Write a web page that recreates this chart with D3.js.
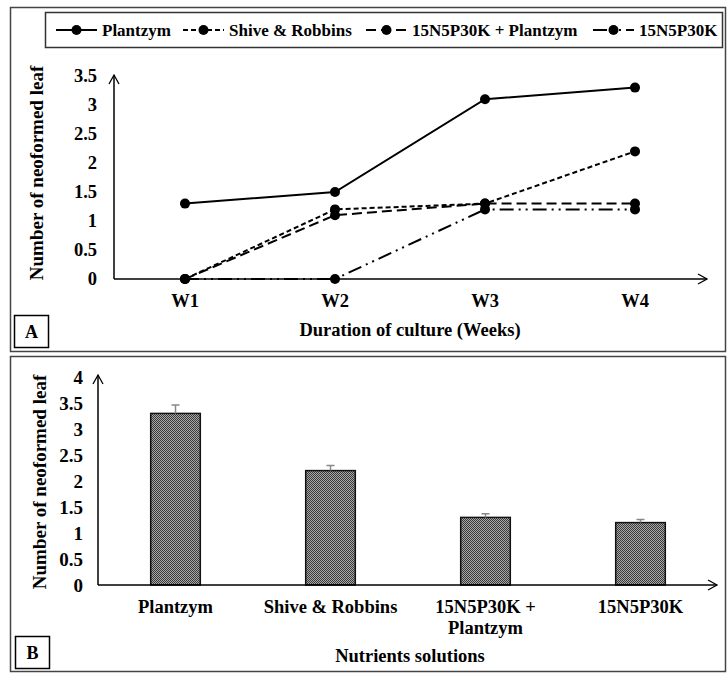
<!DOCTYPE html>
<html><head><meta charset="utf-8">
<script src="https://cdn.jsdelivr.net/npm/d3@7"></script>
<style>body{margin:0;background:#fff}svg{display:block}text{font-family:"Liberation Serif","Times New Roman",serif;font-weight:bold;fill:#000}</style>
</head><body>
<svg id="c" width="728" height="674"></svg>
<script>
// ---- data ----
const weeks = ["W1","W2","W3","W4"];
const seriesNames = ["Plantzym","Shive & Robbins","15N5P30K + Plantzym","15N5P30K"];
const plantzym = [1.3, 1.5, 3.1, 3.3];
const shive = [0, 1.2, 1.3, 2.2];
const npkPlantzym = [0, 1.1, 1.3, 1.3];
const npk = [0, 0, 1.2, 1.2];
const yTicksA = [0,0.5,1,1.5,2,2.5,3,3.5];
const nutrients = ["Plantzym","Shive & Robbins","15N5P30K + Plantzym","15N5P30K"];
const means = [3.3, 2.2, 1.3, 1.2];
const errs = [0.16, 0.1, 0.07, 0.06];
const yTicksB = [0,0.5,1,1.5,2,2.5,3,3.5,4];

const svg = d3.select("#c");
const dashes = [null, "5,3", "10,5", "14,5,2,5,2,5"];
const lineData = [plantzym, shive, npkPlantzym, npk];

// panels
svg.append("rect").attr("x",10.5).attr("y",7.5).attr("width",715).attr("height",344)
  .attr("fill","none").attr("stroke","#444").attr("stroke-width",1.5);
svg.append("rect").attr("x",10.5).attr("y",356.5).attr("width",715).attr("height",315)
  .attr("fill","none").attr("stroke","#444").attr("stroke-width",1.5);

function arrowAxis(g, x1,y1,x2,y2, dir){
  g.append("line").attr("x1",x1).attr("y1",y1).attr("x2",x2).attr("y2",y2)
    .attr("stroke","#000").attr("stroke-width",1.5);
  const p = dir==="up" ? `M${x2-5},${y2+9}L${x2},${y2}L${x2+5},${y2+9}` : `M${x2-9},${y2-5}L${x2},${y2}L${x2-9},${y2+5}`;
  g.append("path").attr("d",p).attr("fill","none").attr("stroke","#000").attr("stroke-width",1.3);
}

// ===== Panel A =====
const xA = d3.scaleBand().domain(weeks).range([110, 710]);
const yA = d3.scaleLinear().domain([0,3.5]).range([279, 76]);
const gA = svg.append("g");
arrowAxis(gA, 114, yA(0), 114, 75, "up");
arrowAxis(gA, 114, yA(0), 707, yA(0), "right");
const yAxA = d3.axisLeft(yA).tickValues(yTicksA).tickSize(0).tickPadding(0).tickFormat(d3.format("~g"));
gA.append("g").attr("transform","translate(97,0)").call(yAxA).call(g=>g.select(".domain").remove())
  .selectAll("text").attr("font-size",18.5).attr("font-family","Liberation Serif").attr("font-weight","bold").attr("fill","#000");
const xAxA = d3.axisBottom(xA).tickSize(0).tickPadding(0);
gA.append("g").attr("transform",`translate(0,${yA(0)+15})`).call(xAxA).call(g=>g.select(".domain").remove())
  .selectAll("text").attr("font-size",18.5).attr("font-family","Liberation Serif").attr("font-weight","bold").attr("fill","#000");

const line = d3.line().x((d,i)=>xA(weeks[i])+xA.bandwidth()/2).y(d=>yA(d));
lineData.forEach((s,k)=>{
  gA.append("path").attr("d",line(s)).attr("fill","none").attr("stroke","#000")
    .attr("stroke-width",2).attr("stroke-dasharray",dashes[k]);
  gA.selectAll(null).data(s).enter().append("circle")
    .attr("cx",(d,i)=>xA(weeks[i])+xA.bandwidth()/2).attr("cy",d=>yA(d)).attr("r",5).attr("fill","#000");
});
gA.append("text").attr("transform","translate(43,173) rotate(-90)").attr("text-anchor","middle")
  .attr("font-size",19).text("Number of neoformed leaf");
gA.append("text").attr("x",410).attr("y",336).attr("text-anchor","middle").attr("font-size",18.5)
  .text("Duration of culture (Weeks)");
gA.append("rect").attr("x",14.5).attr("y",315.5).attr("width",34).attr("height",32)
  .attr("fill","#fff").attr("stroke","#000").attr("stroke-width",1.5);
gA.append("text").attr("x",31.5).attr("y",338).attr("text-anchor","middle").attr("font-size",18).text("A");

// legend
const lg = svg.append("g");
lg.append("rect").attr("x",45.5).attr("y",12.5).attr("width",677).attr("height",35)
  .attr("fill","#fff").attr("stroke","#333").attr("stroke-width",1.5);
const legendStarts = [56, 183, 366, 593];
seriesNames.forEach((n,k)=>{
  const lx = legendStarts[k];
  lg.append("line").attr("x1",lx).attr("x2",lx+41).attr("y1",30).attr("y2",30)
    .attr("stroke","#000").attr("stroke-width",2).attr("stroke-dasharray",dashes[k]);
  lg.append("circle").attr("cx",lx+20.5).attr("cy",30).attr("r",5).attr("fill","#000");
  lg.append("text").attr("x",lx+46).attr("y",36).attr("font-size",17).text(n);
});

// ===== Panel B =====
const defs = svg.append("defs");
const pat = defs.append("pattern").attr("id","dots").attr("patternUnits","userSpaceOnUse")
  .attr("width",2).attr("height",2);
pat.append("rect").attr("width",2).attr("height",2).attr("fill","#a8a8a8");
pat.append("rect").attr("width",1).attr("height",1).attr("fill","#3a3a3a");
pat.append("rect").attr("x",1).attr("y",1).attr("width",1).attr("height",1).attr("fill","#3a3a3a");

const xB = d3.scaleBand().domain(nutrients).range([98, 718]).paddingInner(0.68).paddingOuter(0.34);
const yB = d3.scaleLinear().domain([0,4]).range([585, 377]);
const gB = svg.append("g");
gB.selectAll(null).data(means).enter().append("rect")
  .attr("x",(d,i)=>xB(nutrients[i])).attr("y",d=>yB(d)).attr("width",xB.bandwidth())
  .attr("height",d=>yB(0)-yB(d)).attr("fill","url(#dots)").attr("stroke","#111").attr("stroke-width",1.5);
gB.selectAll(null).data(means).enter().append("path")
  .attr("d",(d,i)=>{const cx=xB(nutrients[i])+xB.bandwidth()/2, y1=yB(d), y2=yB(d+errs[i]);
    return `M${cx},${y1}V${y2}M${cx-4},${y2}H${cx+4}`;})
  .attr("fill","none").attr("stroke","#888").attr("stroke-width",1.5);
arrowAxis(gB, 98, yB(0), 98, 375, "up");
arrowAxis(gB, 98, yB(0), 717, yB(0), "right");
const yAxB = d3.axisLeft(yB).tickValues(yTicksB).tickSize(0).tickPadding(0).tickFormat(d3.format("~g"));
gB.append("g").attr("transform","translate(83,0)").call(yAxB).call(g=>g.select(".domain").remove())
  .selectAll("text").attr("font-size",19).attr("font-family","Liberation Serif").attr("font-weight","bold").attr("fill","#000");
const catLines = {"15N5P30K + Plantzym":["15N5P30K +","Plantzym"]};
nutrients.forEach(n=>{
  const parts = catLines[n] || [n];
  const t = gB.append("text").attr("text-anchor","middle").attr("font-size",18.5);
  parts.forEach((p,j)=>t.append("tspan").attr("x",xB(n)+xB.bandwidth()/2).attr("y",613+j*21).text(p));
});
gB.append("text").attr("transform","translate(46,482) rotate(-90)").attr("text-anchor","middle")
  .attr("font-size",19).text("Number of neoformed leaf");
gB.append("text").attr("x",410).attr("y",662).attr("text-anchor","middle").attr("font-size",18.5)
  .text("Nutrients solutions");
gB.append("rect").attr("x",15.5).attr("y",636.5).attr("width",34).attr("height",32)
  .attr("fill","#fff").attr("stroke","#000").attr("stroke-width",1.5);
gB.append("text").attr("x",32.5).attr("y",659).attr("text-anchor","middle").attr("font-size",18).text("B");
</script>
</body></html>
